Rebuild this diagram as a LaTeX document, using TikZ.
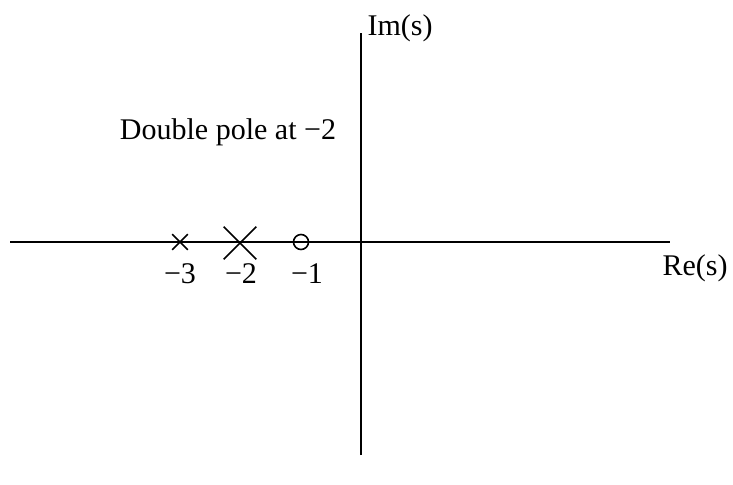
\documentclass[tikz,border=0pt]{standalone}
\usepackage{fontspec}
\setmainfont{Liberation Serif}
\usetikzlibrary{shapes.misc,positioning}
\begin{document}
\begin{tikzpicture}[
    x=0.5pt, y=-0.5pt,
    every node/.style={font=\fontsize{15}{18}\selectfont},
    axis/.style={draw, line width=0.8pt},
    pole/.style={draw, cross out, inner sep=0pt, line width=0.8pt},
    zero/.style={draw, circle, inner sep=0pt, minimum size=7.5pt, line width=0.8pt},
    tick label/.style={anchor=base}
]
\useasboundingbox (0,0) rectangle (733,484);
% axes
\coordinate (re west) at (10,242);
\coordinate (re east) at (670,242);
\coordinate (im south) at (361,455);
\coordinate (im north) at (361,33);
\draw[axis] (re west) -- (re east);
\draw[axis] (im south) -- (im north);
\node[anchor=base] (re label) at (695,275) {Re(s)};
\node[anchor=base] (im label) at (400,35) {Im(s)};
% poles and zero
\node[pole, minimum size=7pt] (pole3) at (180,242) {};
\node[pole, minimum size=15.5pt] (pole2) at (240,243) {};
\node[zero] (zero1) at (301,242) {};
\node[tick label] (lab3) at (180,283) {−3};
\node[tick label] (lab2) at (241,283) {−2};
\node[tick label] (lab1) at (307,283) {−1};
\node[anchor=base] (note) at (228,139) {Double pole at −2};
\end{tikzpicture}
\end{document}
